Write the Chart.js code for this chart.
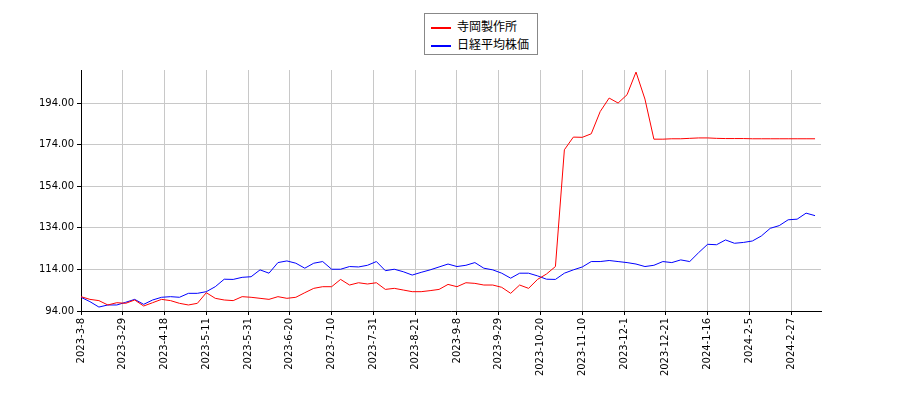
<!DOCTYPE html>
<html><head><meta charset="utf-8">
<script src="https://cdn.jsdelivr.net/npm/chart.js@4"></script>
<style>body{margin:0;background:#fff}#w{position:relative;width:900px;height:400px}
#lg{position:absolute;left:424px;top:13px;width:114px;height:42px;border:1px solid #888;background:#fff;font:12px "Noto Sans CJK JP",sans-serif;box-sizing:border-box;padding:3px 0 0 6px;line-height:18px}
#lg span{display:inline-block;width:20px;height:2px;vertical-align:middle;margin-right:6px}</style>
</head><body><div id="w"><canvas id="c" width="900" height="400"></canvas>
<div id="lg"><div><span style="background:#f00"></span>寺岡製作所</div><div><span style="background:#00f"></span>日経平均株価</div></div></div>
<script>
const tickLabels=["2023-3-8","2023-3-29","2023-4-18","2023-5-11","2023-5-31","2023-6-20","2023-7-10","2023-7-31","2023-8-21","2023-9-8","2023-9-29","2023-10-20","2023-11-10","2023-12-1","2023-12-21","2024-1-16","2024-2-5","2024-2-27"];
const tickStep=14, sampleStep=3;
const teraoka=[100.9,99.6,99,96.9,98,97.7,99.3,96.4,98,99.6,99,97.7,96.9,97.7,102.8,100.1,99.3,99,100.9,100.6,100.1,99.6,100.9,100.1,100.6,102.8,104.9,105.7,105.7,109.2,106.5,107.6,107,107.6,104.4,104.9,104.1,103.3,103.3,103.8,104.4,106.8,
105.7,107.6,107.3,106.5,106.5,105.4,102.5,106.5,104.9,109.2,111.8,115.4,171.6,177.7,177.6,179.3,190,196.5,194.1,198.1,209,196,176.7,176.7,176.9,176.9,177.1,177.3,177.3,177.1,177,177,177,176.9,176.9,176.9,176.9,176.9,176.9,176.9,176.9];
const nikkei=[100.6,98.5,95.9,96.9,96.9,98.2,99.6,97.2,99.3,100.6,100.9,100.6,102.5,102.5,103.3,105.7,109.3,109.2,110.2,110.5,113.8,112.2,117.3,118.1,117,114.6,117,117.8,114.1,114.1,115.4,115.2,116,117.8,113.4,114.1,112.9,111.3,112.6,113.8,115.2,116.6,
115.4,116,117.3,114.6,113.8,112.2,109.8,112.2,112.2,110.9,109.3,109.2,112.2,113.8,115.2,117.8,117.8,118.3,117.8,117.3,116.6,115.4,116,117.8,117.3,118.6,117.8,122.1,126.1,125.9,128.2,126.6,127,127.7,130.1,133.8,135.1,137.9,138.2,141.1,139.9];
const yTicks=[94,114,134,154,174,194];
const pts=a=>a.map((v,i)=>({x:i*sampleStep,y:v}));
new Chart(document.getElementById('c'),{type:'line',
data:{datasets:[{label:'寺岡製作所',data:pts(teraoka),borderColor:'#f00',borderWidth:1,pointRadius:0,tension:0},
{label:'日経平均株価',data:pts(nikkei),borderColor:'#00f',borderWidth:1,pointRadius:0,tension:0}]},
options:{responsive:false,animation:false,layout:{padding:{top:70,right:79,left:0,bottom:0}},
plugins:{legend:{display:false},tooltip:{enabled:false}},
scales:{x:{type:'linear',min:0,max:248,
afterBuildTicks:s=>{s.ticks=tickLabels.map((t,i)=>({value:i*tickStep}));},
afterFit:s=>{s.height=89;},
ticks:{autoSkip:false,maxRotation:90,minRotation:90,color:'#000',font:{family:'DejaVu Sans',size:10},callback:(v,i)=>tickLabels[i]},
grid:{color:'#c8c8c8',tickLength:4,tickColor:'#000'},border:{color:'#000'}},
y:{min:94,max:210,
afterBuildTicks:s=>{s.ticks=yTicks.map(v=>({value:v}));},
afterFit:s=>{s.width=81;},
ticks:{color:'#000',font:{family:'DejaVu Sans',size:10},callback:v=>v.toFixed(2)},
grid:{color:'#c8c8c8',tickLength:4,tickColor:'#000'},border:{color:'#000'}}}}});
</script></body></html>
